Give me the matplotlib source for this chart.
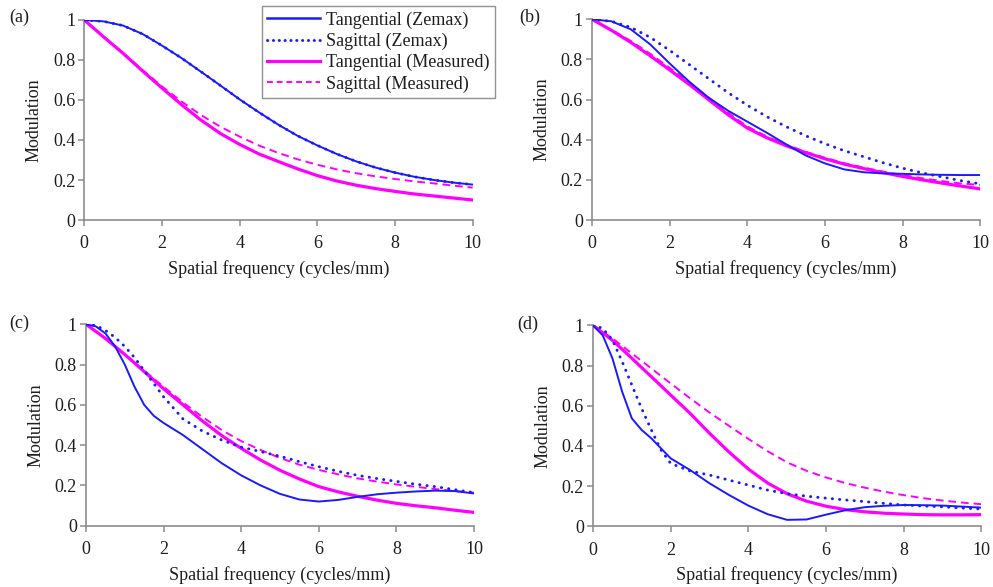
import matplotlib
matplotlib.use("Agg")
import matplotlib.pyplot as plt
from matplotlib.lines import Line2D

plt.rcParams['font.family'] = ['Liberation Serif', 'DejaVu Serif']

# ---------------- data ----------------
x_half = [0, 0.5, 1, 1.5, 2, 2.5, 3, 3.5, 4, 4.5, 5, 5.5, 6, 6.5, 7, 7.5, 8, 8.5, 9, 9.5, 10]

# panel (a)
a_x = x_half
a_tan_zemax = [1.0, 0.993, 0.972, 0.93, 0.872, 0.81, 0.742, 0.673, 0.603, 0.538, 0.476,
               0.42, 0.373, 0.33, 0.293, 0.262, 0.237, 0.216, 0.200, 0.187, 0.177]
a_sag_zemax = [1.0, 0.993, 0.972, 0.93, 0.872, 0.81, 0.742, 0.673, 0.603, 0.538, 0.476,
               0.42, 0.373, 0.33, 0.293, 0.262, 0.237, 0.216, 0.200, 0.187, 0.177]
a_tan_meas = [1.0, 0.915, 0.833, 0.745, 0.660, 0.577, 0.500, 0.433, 0.378, 0.330, 0.292,
              0.255, 0.222, 0.195, 0.174, 0.157, 0.143, 0.130, 0.120, 0.110, 0.100]
a_sag_meas = [1.0, 0.917, 0.835, 0.75, 0.668, 0.593, 0.525, 0.467, 0.417, 0.372, 0.335,
              0.303, 0.276, 0.253, 0.234, 0.218, 0.205, 0.193, 0.183, 0.172, 0.162]

# panel (b)
b_x = x_half
b_tan_zemax = [1.0, 0.99, 0.95, 0.875, 0.78, 0.69, 0.61, 0.545, 0.49, 0.435, 0.377,
               0.322, 0.282, 0.252, 0.238, 0.232, 0.230, 0.227, 0.225, 0.224, 0.224]
b_sag_zemax = [1.0, 0.99, 0.96, 0.91, 0.845, 0.775, 0.705, 0.635, 0.572, 0.515, 0.465,
               0.42, 0.38, 0.345, 0.315, 0.285, 0.258, 0.235, 0.215, 0.196, 0.180]
b_tan_meas = [1.0, 0.945, 0.885, 0.818, 0.748, 0.676, 0.600, 0.525, 0.458, 0.410, 0.370,
              0.336, 0.305, 0.278, 0.256, 0.236, 0.217, 0.200, 0.184, 0.169, 0.155]
b_sag_meas = [1.0, 0.948, 0.892, 0.828, 0.758, 0.686, 0.610, 0.535, 0.466, 0.416, 0.375,
              0.340, 0.310, 0.283, 0.261, 0.241, 0.224, 0.208, 0.194, 0.182, 0.175]

# panel (c)
c_x = [0, 0.25, 0.5, 0.75, 1, 1.25, 1.5, 1.75, 2, 2.5, 3, 3.5, 4, 4.5, 5, 5.5, 6,
       6.5, 7, 7.5, 8, 8.5, 9, 9.5, 10]
c_tan_zemax = [1.0, 0.99, 0.955, 0.89, 0.80, 0.69, 0.60, 0.545, 0.51, 0.45, 0.38, 0.31,
               0.25, 0.20, 0.158, 0.13, 0.12, 0.128, 0.143, 0.156, 0.164, 0.170, 0.174,
               0.172, 0.160]
c_sag_zemax = [1.0, 0.995, 0.97, 0.935, 0.89, 0.835, 0.77, 0.705, 0.64, 0.53, 0.47, 0.425,
               0.39, 0.368, 0.345, 0.318, 0.293, 0.27, 0.25, 0.234, 0.22, 0.206, 0.194,
               0.179, 0.164]
c_tan_meas = [1.0, 0.965, 0.93, 0.89, 0.85, 0.808, 0.765, 0.722, 0.68, 0.60, 0.52, 0.447,
              0.384, 0.326, 0.275, 0.232, 0.194, 0.168, 0.146, 0.127, 0.111, 0.099,
              0.089, 0.077, 0.066]
c_sag_meas = [1.0, 0.965, 0.93, 0.89, 0.85, 0.81, 0.77, 0.73, 0.69, 0.612, 0.54, 0.475,
              0.42, 0.376, 0.336, 0.303, 0.277, 0.255, 0.235, 0.219, 0.205, 0.193, 0.182,
              0.172, 0.164]

# panel (d)
d_x = [0, 0.25, 0.5, 0.75, 1, 1.25, 1.5, 1.75, 2, 2.5, 3, 3.5, 4, 4.5, 5, 5.5, 6,
       6.5, 7, 7.5, 8, 8.5, 9, 9.5, 10]
d_tan_zemax = [1.0, 0.95, 0.836, 0.67, 0.537, 0.48, 0.438, 0.388, 0.338, 0.28, 0.214,
               0.156, 0.103, 0.06, 0.032, 0.034, 0.058, 0.08, 0.095, 0.102, 0.106,
               0.105, 0.103, 0.098, 0.093]
d_sag_zemax = [1.0, 0.985, 0.927, 0.82, 0.703, 0.587, 0.48, 0.38, 0.313, 0.275, 0.255,
               0.23, 0.205, 0.18, 0.162, 0.15, 0.14, 0.131, 0.123, 0.114, 0.106, 0.101,
               0.097, 0.091, 0.086]
d_tan_meas = [1.0, 0.963, 0.925, 0.881, 0.836, 0.79, 0.745, 0.699, 0.653, 0.562, 0.463,
              0.37, 0.285, 0.215, 0.162, 0.125, 0.100, 0.083, 0.072, 0.065, 0.061,
              0.058, 0.057, 0.057, 0.058]
d_sag_meas = [1.0, 0.968, 0.935, 0.898, 0.86, 0.823, 0.786, 0.748, 0.711, 0.637, 0.566,
              0.5, 0.435, 0.373, 0.318, 0.276, 0.243, 0.215, 0.192, 0.172, 0.155, 0.140,
              0.128, 0.118, 0.110]

panels = [
    ("(a)", a_x, a_tan_zemax, a_sag_zemax, a_tan_meas, a_sag_meas),
    ("(b)", b_x, b_tan_zemax, b_sag_zemax, b_tan_meas, b_sag_meas),
    ("(c)", c_x, c_tan_zemax, c_sag_zemax, c_tan_meas, c_sag_meas),
    ("(d)", d_x, d_tan_zemax, d_sag_zemax, d_tan_meas, d_sag_meas),
]

legend_labels = ["Tangential (Zemax)", "Sagittal (Zemax)",
                 "Tangential (Measured)", "Sagittal (Measured)"]
x_ticks = [0, 2, 4, 6, 8, 10]
y_ticks = [0, 0.2, 0.4, 0.6, 0.8, 1]
y_ticklabels = ["0", "0.2", "0.4", "0.6", "0.8", "1"]

# ---------------- styling ----------------
W, H = 993, 587
fig = plt.figure(figsize=(W / 100, H / 100), dpi=100)

BLUE = "#1a1aff"
MAG = "#ff00ff"
TXT = "#1e1e1e"
SPINE = "#8c8c8c"
FS = 13

# axes boxes in pixels: left, top, right, bottom
boxes = [
    (84.3, 20.0, 472.7, 220.0),
    (592.0, 19.3, 980.3, 220.0),
    (86.0, 324.3, 474.0, 525.7),
    (593.0, 325.3, 981.3, 526.3),
]
letter_pos = [(9, 17), (519, 17), (9, 323), (517, 324)]

for (lab, xs, tz, sz, tm, sm), (l, t, r, b), (lx, ly) in zip(panels, boxes, letter_pos):
    ax = fig.add_axes([l / W, 1 - b / H, (r - l) / W, (b - t) / H])
    ax.plot(xs, sm, color=MAG, lw=1.4, ls=(0, (4, 2.5)), zorder=2)
    ax.plot(xs, tm, color=MAG, lw=2.3, zorder=3)
    ax.plot(xs, sz, color=BLUE, lw=2.1, ls=(0, (0.1, 2.4)), dash_capstyle='round', zorder=4)
    ax.plot(xs, tz, color=BLUE, lw=1.4, zorder=5)
    ax.set_xlim(0, 10)
    ax.set_ylim(0, 1)
    ax.set_xticks(x_ticks)
    ax.set_xticklabels([str(v) for v in x_ticks])
    ax.set_yticks(y_ticks)
    ax.set_yticklabels(y_ticklabels)
    for s in ("top", "right"):
        ax.spines[s].set_visible(False)
    for s in ("left", "bottom"):
        ax.spines[s].set_color(SPINE)
        ax.spines[s].set_linewidth(1.2)
    ax.tick_params(axis="both", direction="out", length=4, width=1.1, color=SPINE,
                   labelsize=FS, labelcolor=TXT)
    ax.tick_params(axis="x", pad=7)
    ax.tick_params(axis="y", pad=2.5)
    ax.set_xlabel("Spatial frequency (cycles/mm)", fontsize=FS, color=TXT)
    ax.set_ylabel("Modulation", fontsize=FS, color=TXT)
    ax.xaxis.set_label_coords(0.5, -0.2)
    ax.yaxis.set_label_coords(-0.108, 0.5)
    fig.text(lx / W, 1 - ly / H, lab, fontsize=FS, color=TXT, ha="left", va="center")

handles = [
    Line2D([], [], color=BLUE, lw=1.8),
    Line2D([], [], color=BLUE, lw=2.1, ls=(0, (0.1, 1.9)), dash_capstyle='round'),
    Line2D([], [], color=MAG, lw=2.3),
    Line2D([], [], color=MAG, lw=1.4, ls=(0, (3, 2))),
]
leg = fig.legend(handles, legend_labels, loc="upper left",
                 bbox_to_anchor=(262 / W, 1 - 6 / H), borderaxespad=0,
                 fontsize=FS, frameon=True, fancybox=False, handlelength=2.9,
                 handletextpad=0.35, labelspacing=0.22, borderpad=0.3)
leg.get_frame().set_edgecolor("#777777")
leg.get_frame().set_linewidth(1.0)
for t in leg.get_texts():
    t.set_color(TXT)

fig.savefig("out.png", dpi=100)
